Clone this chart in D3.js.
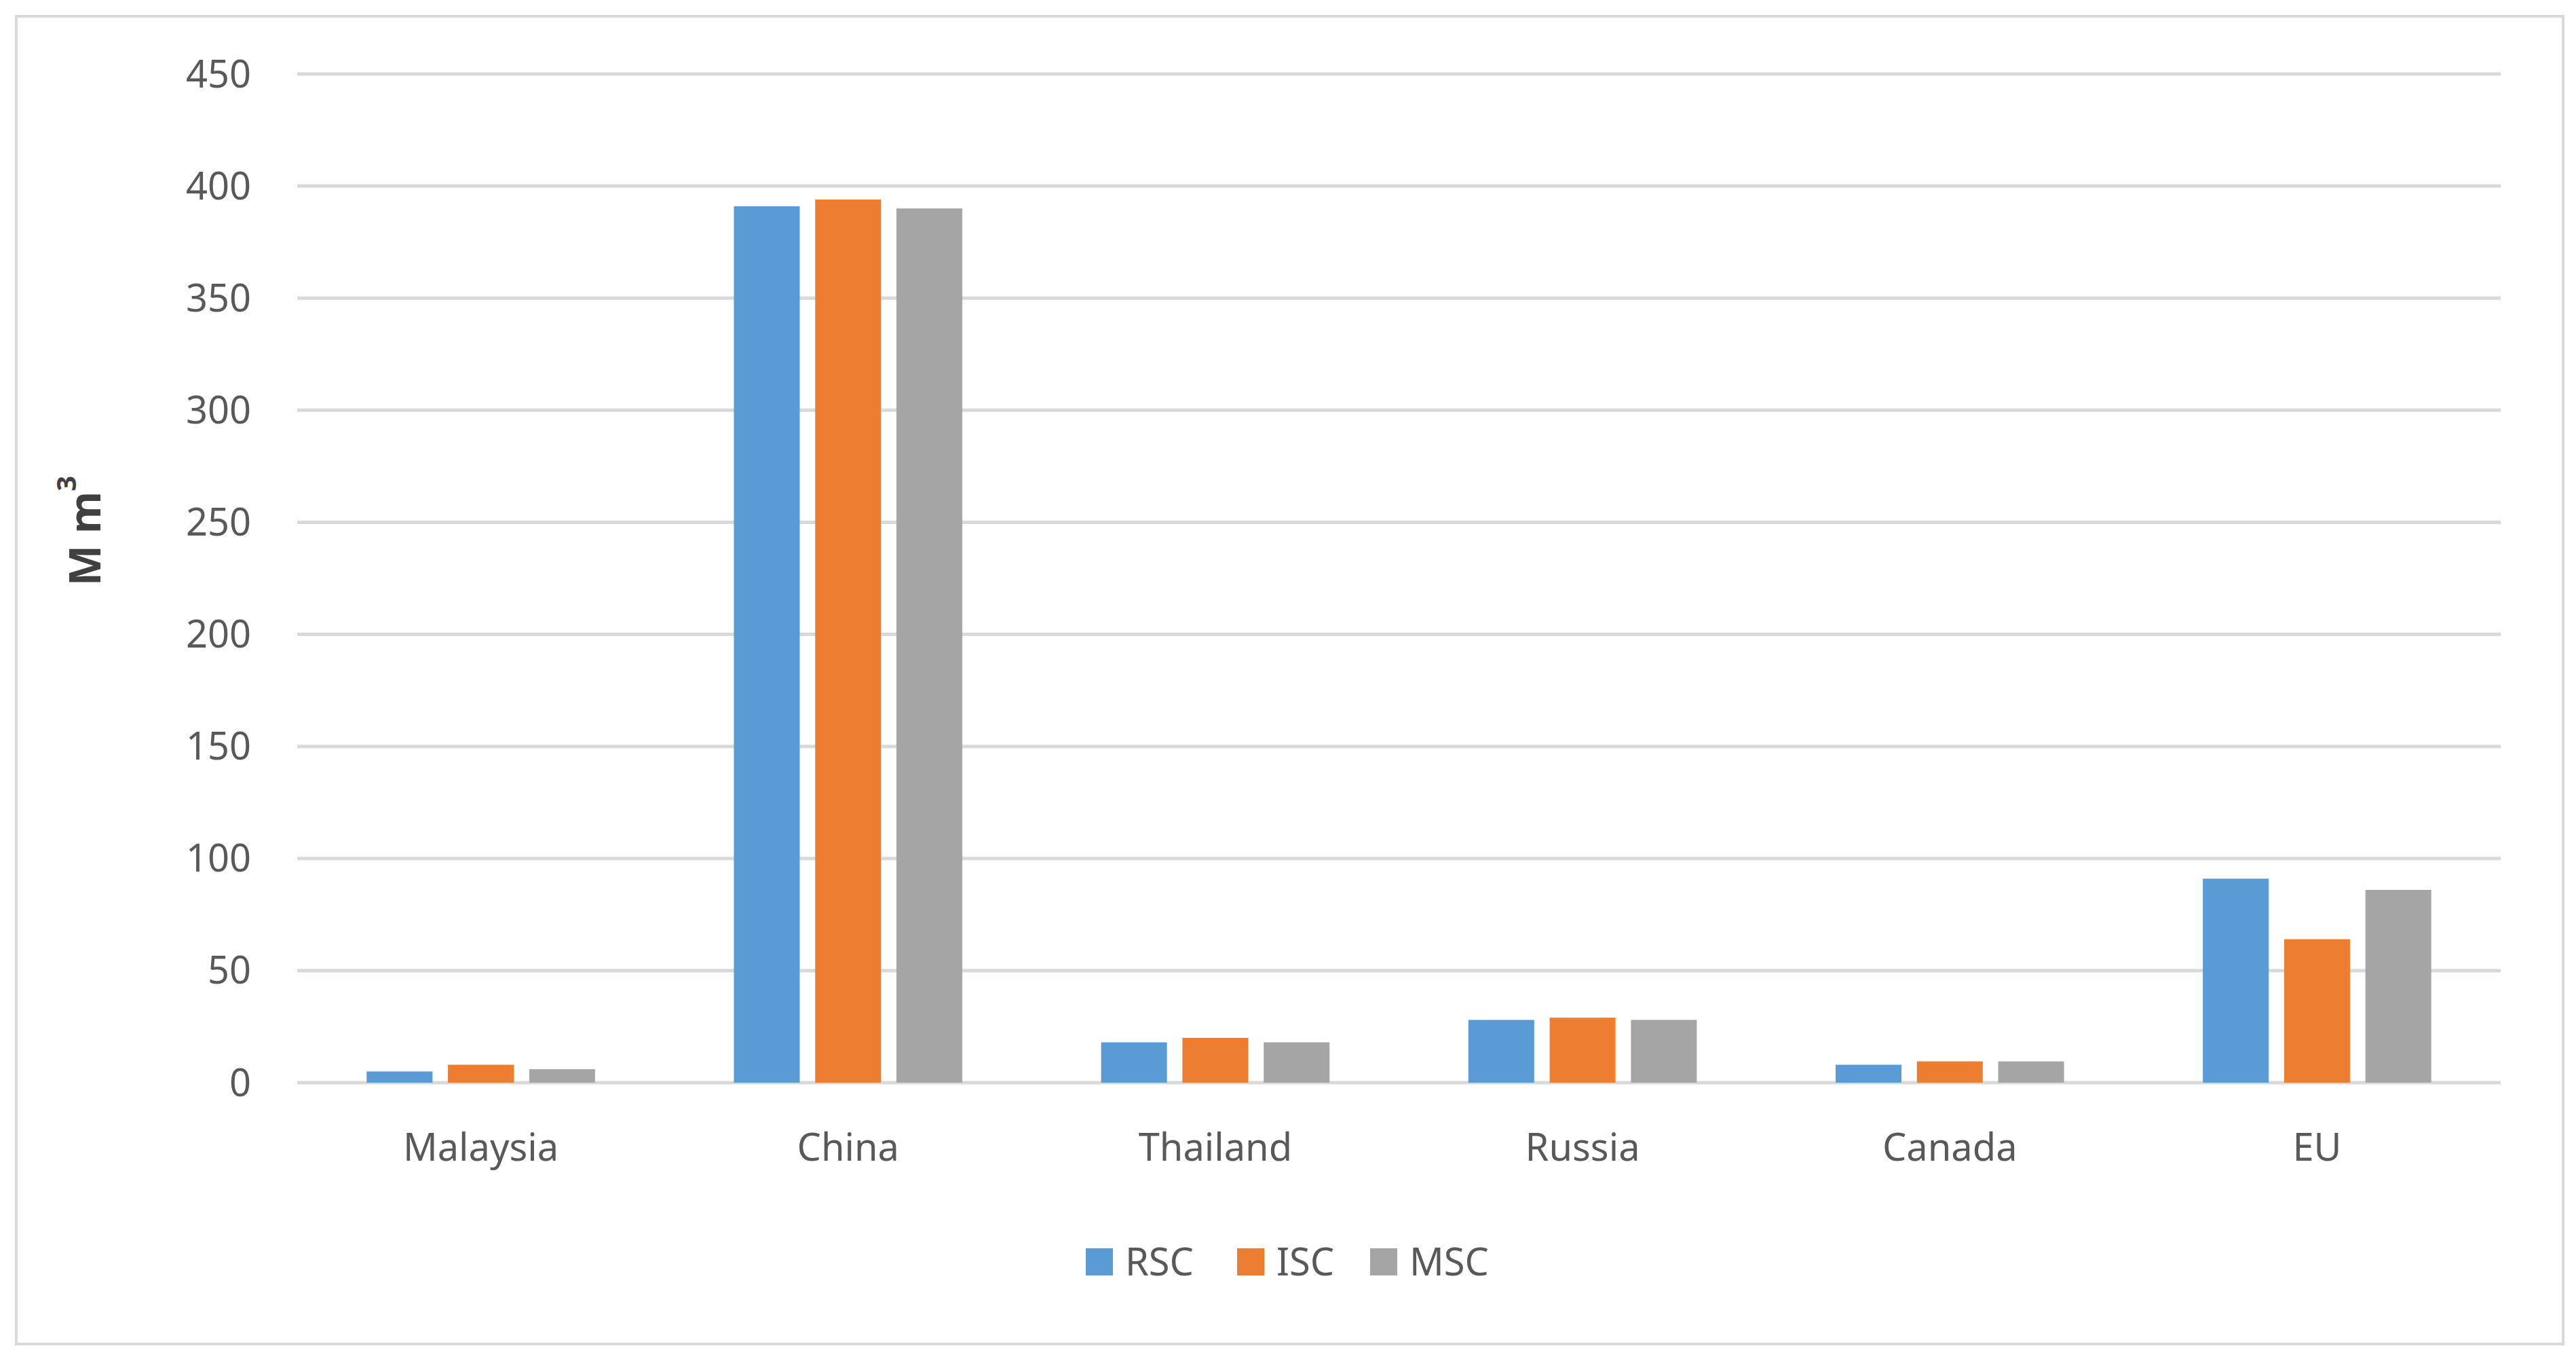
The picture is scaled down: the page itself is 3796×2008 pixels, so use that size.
<!DOCTYPE html>
<html>
<head>
<meta charset="utf-8">
<script src="https://cdn.jsdelivr.net/npm/d3@7"></script>
<style>
  body { margin: 0; background: #fff; }
  text { font-family: "Noto Sans", "Open Sans", sans-serif; fill: #595959; }
</style>
</head>
<body>
<svg id="chart" width="3796" height="2008"></svg>
<script>
const countries = ["Malaysia", "China", "Thailand", "Russia", "Canada", "EU"];
const seriesNames = ["RSC", "ISC", "MSC"];
const rsc = [5, 391, 18, 28, 8, 91];
const isc = [8, 394, 20, 29, 9.5, 64];
const msc = [6, 390, 18, 28, 9.5, 86];
const yTicks = [0, 50, 100, 150, 200, 250, 300, 350, 400, 450];
const colors = ["#5b9bd5", "#ed7d31", "#a5a5a5"];

const seriesValues = [rsc, isc, msc];
const rows = countries.map((c, i) => ({ country: c, values: seriesValues.map(s => s[i]) }));

const svg = d3.select("#chart");
const plotLeft = 438, plotRight = 3685, plotTop = 109, plotBottom = 1595;

svg.append("rect").attr("x", 24).attr("y", 24).attr("width", 3753).attr("height", 1956)
    .attr("fill", "#fff").attr("stroke", "#d9d9d9").attr("stroke-width", 4);

const y = d3.scaleLinear().domain([0, 450]).range([plotBottom, plotTop]);
const x0 = d3.scaleBand().domain(countries).range([plotLeft, plotRight]).paddingInner(0.378).paddingOuter(0.189);
const x1 = d3.scaleBand().domain(d3.range(3)).range([0, x0.bandwidth()]).paddingInner(0.19);

// gridlines
svg.append("g").selectAll("line").data(yTicks).join("line")
    .attr("x1", plotLeft).attr("x2", plotRight)
    .attr("y1", d => y(d)).attr("y2", d => y(d))
    .attr("stroke", "#d9d9d9").attr("stroke-width", 5);

// y tick labels
svg.append("g").selectAll("text").data(yTicks).join("text")
    .attr("x", 370).attr("y", d => y(d)).attr("dy", "0.35em")
    .attr("text-anchor", "end").attr("font-size", 56).text(d => d);

// bars
const groups = svg.append("g").selectAll("g").data(rows).join("g")
    .attr("transform", d => `translate(${x0(d.country)},0)`);
groups.selectAll("rect").data(d => d.values).join("rect")
    .attr("x", (d, i) => x1(i)).attr("width", x1.bandwidth())
    .attr("y", d => y(d)).attr("height", d => y(0) - y(d))
    .attr("fill", (d, i) => colors[i]);

// category labels
svg.append("g").selectAll("text").data(countries).join("text")
    .attr("x", d => x0(d) + x0.bandwidth() / 2).attr("y", 1690).attr("dy", "0.35em")
    .attr("text-anchor", "middle").attr("font-size", 56).text(d => d);

// y axis title
const yt = svg.append("text")
    .attr("transform", `translate(148,${(plotTop + plotBottom) / 2 - 70}) rotate(-90)`)
    .attr("text-anchor", "middle").attr("font-size", 64).attr("font-weight", "bold")
    .style("fill", "#404040");
yt.append("tspan").text("M m");
yt.append("tspan").attr("font-size", 40).attr("dy", "-0.9em").text("3");

// legend
const legendX = [1600, 1823, 2019];
const lg = svg.append("g").selectAll("g").data(seriesNames).join("g")
    .attr("transform", (d, i) => `translate(${legendX[i]},1859)`);
lg.append("rect").attr("x", 0).attr("y", -20).attr("width", 40).attr("height", 40)
    .attr("fill", (d, i) => colors[i]);
lg.append("text").attr("x", 58).attr("dy", "0.35em").attr("font-size", 56).text(d => d);
</script>
</body>
</html>
